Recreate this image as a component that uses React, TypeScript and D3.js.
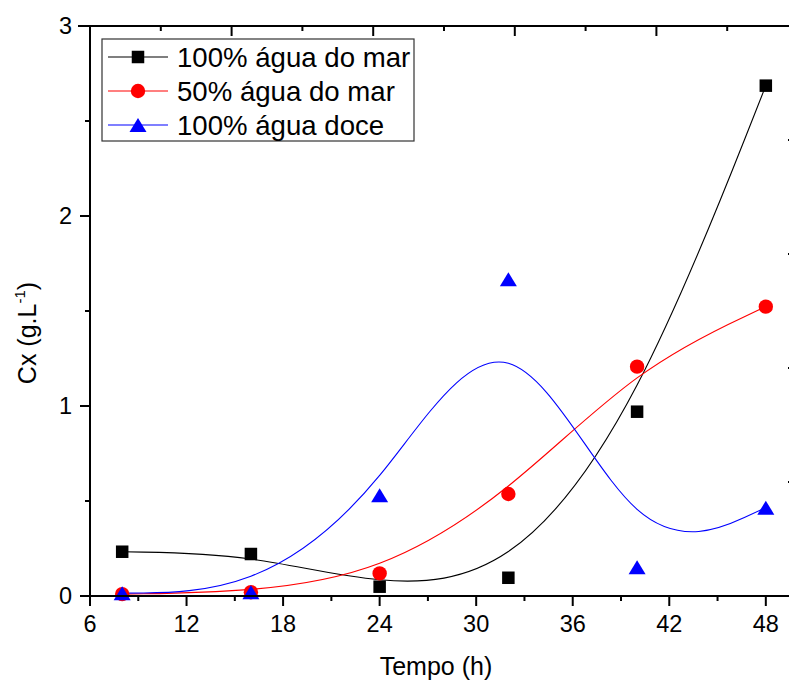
import React from 'react';
import * as d3 from 'd3';

// ---- data ----
const times = [8, 16, 24, 32, 40, 48];
const seaWater100 = [0.233, 0.221, 0.049, 0.096, 0.97, 2.686];
const seaWater50 = [0.01, 0.02, 0.119, 0.537, 1.207, 1.523];
const freshWater100 = [0.015, 0.02, 0.53, 1.667, 0.151, 0.465];
const seriesNames = ['100% água do mar', '50% água do mar', '100% água doce'];
const seriesColors = ['#000000', '#ff0000', '#0000ff'];
const seriesShapes = ['square', 'circle', 'triangle'];

const xTicks = [6, 12, 18, 24, 30, 36, 42, 48];
const xMinorTicks = [9, 15, 21, 27, 33, 39, 45];
const yTicks = [0, 1, 2, 3];
const yMinorTicks = [0.5, 1.5, 2.5];
const topTicks = [0, 1, 2, 3, 4, 5];
const topMinorTicks = [0.5, 1.5, 2.5, 3.5, 4.5];
const rightTicks = [0, 1, 2, 3, 4, 5];

const xTitle = 'Tempo (h)';

const W = 789;
const H = 684;
const FONT = '"Liberation Sans", Arial, sans-serif';

function Marker({ shape, cx, cy, color }: { shape: string; cx: number; cy: number; color: string }) {
  if (shape === 'square') {
    const s = 12.5;
    return <rect x={cx - s / 2} y={cy - s / 2} width={s} height={s} fill={color} />;
  }
  if (shape === 'circle') {
    return <circle cx={cx} cy={cy} r={7.2} fill={color} />;
  }
  const hw = 8.5;
  const hh = 7;
  return (
    <path
      d={`M${cx},${cy - hh}L${cx + hw},${cy + hh}L${cx - hw},${cy + hh}Z`}
      fill={color}
    />
  );
}

export default function App() {
  const left = 90;
  const right = 798;
  const top = 26;
  const bottom = 596;

  const x = d3.scaleLinear().domain([6, 50]).range([left, right]);
  const y = d3.scaleLinear().domain([0, 3]).range([bottom, top]);
  const xTop = d3.scaleLinear().domain([0, 5]).range([left, right]);
  const yRight = d3.scaleLinear().domain([0, 5]).range([bottom, top]);

  const allSeries = [seaWater100, seaWater50, freshWater100];

  const line = d3
    .line<[number, number]>()
    .x((d) => x(d[0]))
    .y((d) => y(d[1]))
    .curve(d3.curveBasis);

  const axisW = 2;
  const legendRows = [57, 91, 125];

  return (
    <svg
      width={W}
      height={H}
      style={{ position: 'absolute', left: 0, top: 0, background: '#fff' }}
      fontFamily={FONT}
    >
      <rect x={0} y={0} width={W} height={H} fill="#fff" />

      {/* curves */}
      {allSeries.map((vals, i) => (
        <path
          key={'c' + i}
          d={line(times.map((t, j) => [t, vals[j]] as [number, number])) || ''}
          fill="none"
          stroke={seriesColors[i]}
          strokeWidth={1.1}
        />
      ))}

      {/* markers */}
      {allSeries.map((vals, i) =>
        times.map((t, j) => (
          <Marker
            key={'m' + i + '-' + j}
            shape={seriesShapes[i]}
            cx={x(t)}
            cy={y(vals[j])}
            color={seriesColors[i]}
          />
        ))
      )}

      {/* axes lines */}
      <line x1={left} x2={right} y1={bottom} y2={bottom} stroke="#000" strokeWidth={axisW} />
      <line x1={left - 12} x2={right} y1={top} y2={top} stroke="#000" strokeWidth={axisW} />
      <line x1={left} x2={left} y1={top} y2={bottom + 10} stroke="#000" strokeWidth={axisW} />
      <line x1={right} x2={right} y1={top} y2={bottom} stroke="#000" strokeWidth={axisW} />

      {/* bottom ticks */}
      {xTicks.map((t) => (
        <g key={'xt' + t}>
          <line x1={x(t)} x2={x(t)} y1={bottom} y2={bottom + 10} stroke="#000" strokeWidth={axisW} />
          <text x={x(t)} y={632} fontSize={23.5} textAnchor="middle" fill="#000">
            {t}
          </text>
        </g>
      ))}
      {xMinorTicks.map((t) => (
        <line key={'xm' + t} x1={x(t)} x2={x(t)} y1={bottom} y2={bottom + 5} stroke="#000" strokeWidth={axisW} />
      ))}

      {/* top ticks (inward) */}
      {topTicks.map((t) => (
        <line key={'tt' + t} x1={xTop(t)} x2={xTop(t)} y1={top} y2={top + 10} stroke="#000" strokeWidth={axisW} />
      ))}
      {topMinorTicks.map((t) => (
        <line key={'tm' + t} x1={xTop(t)} x2={xTop(t)} y1={top} y2={top + 5} stroke="#000" strokeWidth={axisW} />
      ))}

      {/* left ticks */}
      {yTicks.map((t) => (
        <g key={'yt' + t}>
          <line x1={left - 10} x2={left} y1={y(t)} y2={y(t)} stroke="#000" strokeWidth={axisW} />
          <text x={72} y={y(t) + 8} fontSize={23.5} textAnchor="end" fill="#000">
            {t}
          </text>
        </g>
      ))}
      {yMinorTicks.map((t) => (
        <line key={'ym' + t} x1={left - 5} x2={left} y1={y(t)} y2={y(t)} stroke="#000" strokeWidth={axisW} />
      ))}

      {/* right ticks (inward) */}
      {rightTicks.map((t) => (
        <line key={'rt' + t} x1={right - 10} x2={right} y1={yRight(t)} y2={yRight(t)} stroke="#000" strokeWidth={axisW} />
      ))}

      {/* axis titles */}
      <text x={436} y={675} fontSize={25} textAnchor="middle" fill="#000">
        {xTitle}
      </text>
      <text transform="translate(36,333) rotate(-90)" fontSize={25} textAnchor="middle" fill="#000">
        Cx (g.L
        <tspan fontSize={15} dy={-11}>-1</tspan>
        <tspan dy={11}>)</tspan>
      </text>

      {/* legend */}
      <rect x={102} y={39} width={312} height={102} fill="#fff" stroke="#333" strokeWidth={1.2} />
      {seriesNames.map((name, i) => (
        <g key={'lg' + i}>
          <line x1={108} x2={168} y1={legendRows[i]} y2={legendRows[i]} stroke={seriesColors[i]} strokeWidth={1.1} />
          <Marker shape={seriesShapes[i]} cx={138} cy={legendRows[i]} color={seriesColors[i]} />
          <text x={177} y={legendRows[i] + 9.5} fontSize={27.6} fill="#000">
            {name}
          </text>
        </g>
      ))}
    </svg>
  );
}
